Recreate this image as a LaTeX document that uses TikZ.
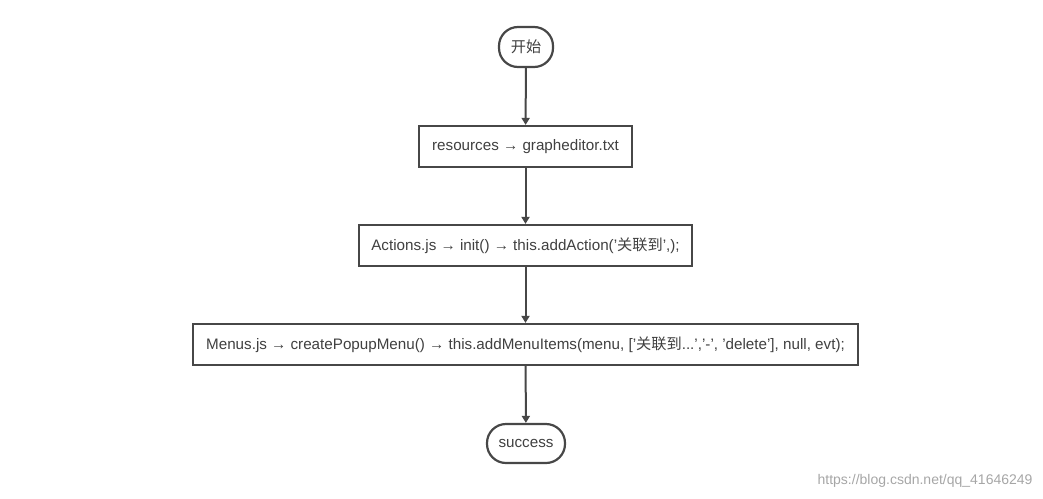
\documentclass[tikz,border=0pt]{standalone}
\usepackage{fontspec}
\setmainfont{Liberation Sans}
\newfontfamily\cjk{Noto Sans CJK SC}
\usetikzlibrary{arrows.meta}
\begin{document}
\begin{tikzpicture}[x=1pt,y=-1pt,
  every node/.style={font=\fontsize{15.2}{17}\selectfont, text=black!75},
  box/.style={draw=black!72, line width=2.2pt, fill=white, inner sep=0pt},
  term/.style={box, rounded corners=19pt},
  conn/.style={draw=black!72, line width=2pt, -{Triangle[length=7pt,width=8pt]}}]
\useasboundingbox (0,0) rectangle (1043,498);
\node[term, minimum width=54pt, minimum height=40pt] (s) at (526,47) {{\cjk 开始}};
\node[box, minimum width=213pt, minimum height=41pt] (a) at (525.5,146.5) {resources → grapheditor.txt};
\node[box, minimum width=333pt, minimum height=41pt] (b) at (525.5,245.5) {Actions.js → init() → this.addAction('{\cjk 关联到}',);};
\node[box, minimum width=665pt, minimum height=41pt] (c) at (525.5,344.5) {Menus.js → createPopupMenu() → this.addMenuItems(menu, ['{\cjk 关联到}...','-', 'delete'], null, evt);};
\node[term, minimum width=78pt, minimum height=39pt] (e) at (526,443.5) {success};
\draw[conn] (s) -- (a);
\draw[conn] (a) -- (b);
\draw[conn] (b) -- (c);
\draw[conn] (c) -- (e);
\node[font=\fontsize{14}{16}\selectfont, text=black!35, anchor=east] (w) at (1036,481) {https://blog.csdn.net/qq\_41646249};
\end{tikzpicture}
\end{document}
